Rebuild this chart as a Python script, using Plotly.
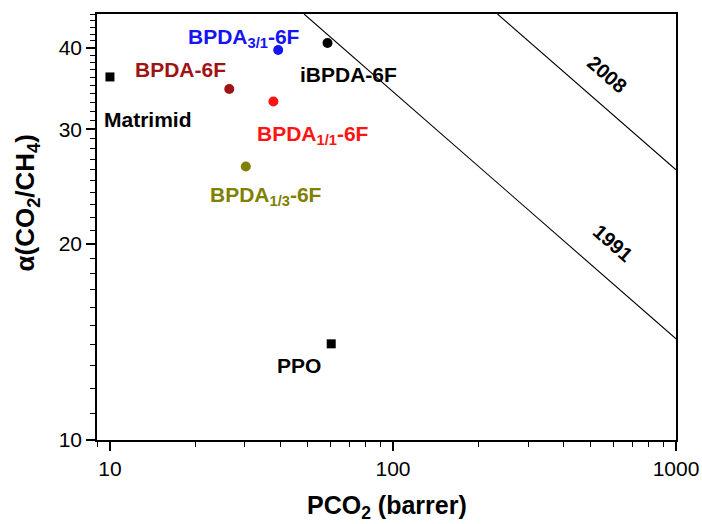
import math
import plotly.graph_objects as go

# ---- data ----
names = ["Matrimid", "BPDA-6F", "BPDA3/1-6F", "iBPDA-6F", "BPDA1/1-6F", "BPDA1/3-6F", "PPO"]
p_co2 = [10.0, 26.4, 39.3, 58.7, 37.8, 30.2, 60.5]
alpha = [36.1, 34.6, 39.7, 40.7, 33.1, 26.3, 14.05]
symbols = ["square", "circle", "circle", "circle", "circle", "circle", "square"]
colors = ["#000000", "#9E1414", "#1414F5", "#000000", "#FF1414", "#808000", "#000000"]

# Robeson upper bounds (end points)
bound_1991_p = [48.5, 1000]
bound_1991_a = [45.1, 14.3]
bound_2008_p = [234, 1000]
bound_2008_a = [45.1, 26.0]

x_tickvals = [10, 100, 1000]
x_ticktext = ["10", "100", "1000"]
y_tickvals = [10, 20, 30, 40]
y_ticktext = ["10", "20", "30", "40"]

FONT = "Liberation Sans, Arial, sans-serif"

fig = go.Figure()
for bp, ba in [(bound_1991_p, bound_1991_a), (bound_2008_p, bound_2008_a)]:
    fig.add_trace(go.Scatter(x=bp, y=ba, mode="lines",
                             line=dict(color="black", width=1.1), showlegend=False,
                             hoverinfo="skip"))

for n, x, y, s, c in zip(names, p_co2, alpha, symbols, colors):
    fig.add_trace(go.Scatter(x=[x], y=[y], mode="markers", name=n,
                             marker=dict(symbol=s, color=c,
                                         size=10 if s == "circle" else 9,
                                         line=dict(width=0)),
                             showlegend=False))

# labels: (text, x, y, color)
labels = [
    ("Matrimid", 13.6, 31.1, colors[0]),
    ("BPDA-6F", 17.8, 37.0, colors[1]),
    ("BPDA<sub>3/1</sub>-6F", 29.7, 41.4, colors[2]),
    ("iBPDA-6F", 69.9, 36.4, colors[3]),
    ("BPDA<sub>1/1</sub>-6F", 52.2, 29.4, colors[4]),
    ("BPDA<sub>1/3</sub>-6F", 35.6, 23.7, colors[5]),
    ("PPO", 46.5, 13.0, colors[6]),
]
for t, x, y, c in labels:
    fig.add_annotation(x=math.log10(x), y=math.log10(y), xref="x", yref="y",
                       text="<b>" + t + "</b>", showarrow=False,
                       font=dict(family=FONT, size=21, color=c),
                       xanchor="center", yanchor="middle")

for t, x, y in [("2008", 575, 36.4), ("1991", 599, 20.1)]:
    fig.add_annotation(x=math.log10(x), y=math.log10(y), xref="x", yref="y",
                       text="<b>" + t + "</b>", showarrow=False, textangle=41,
                       font=dict(family=FONT, size=20, color="black"),
                       xanchor="center", yanchor="middle")

# axis titles as annotations
fig.add_annotation(x=-0.122, y=0.556, xref="paper", yref="paper",
                   text="<b>\u03b1(CO<sub>2</sub>/CH<sub>4</sub>)</b>", showarrow=False,
                   textangle=-90, font=dict(family=FONT, size=26, color="black"),
                   xanchor="center", yanchor="middle")
fig.add_annotation(x=0.5, y=-0.158, xref="paper", yref="paper",
                   text="<b>PCO<sub>2</sub> (barrer)</b>", showarrow=False,
                   font=dict(family=FONT, size=25, color="black"),
                   xanchor="center", yanchor="middle")

x_minor = [9] + [v * 10 for v in range(2, 10)] + [v * 100 for v in range(2, 10)]
y_minor = [v for v in range(11, 46) if v not in y_tickvals]

fig.update_xaxes(type="log", range=[math.log10(9.0), 3], automargin=False,
                 tickmode="array", tickvals=x_tickvals, ticktext=x_ticktext,
                 ticks="outside", ticklen=9, tickwidth=1.5, tickcolor="black",
                 showline=True, linecolor="black", linewidth=1.6, mirror=True,
                 showgrid=False, zeroline=False,
                 tickfont=dict(family=FONT, size=21, color="black"),
                 minor=dict(tickvals=x_minor, ticks="outside", ticklen=5,
                            tickwidth=1.2, tickcolor="black", showgrid=False))
fig.update_yaxes(type="log", range=[1, math.log10(45.1)], automargin=False,
                 tickmode="array", tickvals=y_tickvals, ticktext=y_ticktext,
                 ticks="outside", ticklen=9, tickwidth=1.5, tickcolor="black",
                 showline=True, linecolor="black", linewidth=1.6, mirror=True,
                 showgrid=False, zeroline=False,
                 tickfont=dict(family=FONT, size=21, color="black"),
                 minor=dict(tickvals=y_minor, ticks="outside", ticklen=5,
                            tickwidth=1.2, tickcolor="black", showgrid=False))

fig.update_layout(width=702, height=524,
                  margin=dict(l=97, r=26, t=14, b=84, autoexpand=False),
                  plot_bgcolor="white", paper_bgcolor="white",
                  showlegend=False)

fig.write_html("out.html")
